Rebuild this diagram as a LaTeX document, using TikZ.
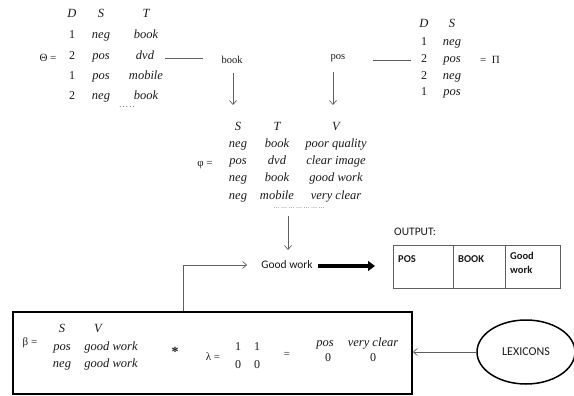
\documentclass[tikz,border=0pt]{standalone}
\usepackage{fontspec}
\setmainfont{Liberation Serif}
\newfontfamily\calib{Carlito}
\usetikzlibrary{arrows.meta,shapes.geometric}
\definecolor{lnc}{RGB}{95,95,95}
\definecolor{txc}{RGB}{25,25,25}
\begin{document}
\begin{tikzpicture}[x=1pt,y=-1pt,
  cellbase/.style={inner sep=0pt,text height=8pt,text depth=3pt,text=txc},
  it/.style={cellbase,font=\fontsize{12.5}{14}\selectfont\itshape},
  num/.style={cellbase,font=\fontsize{12}{14}\selectfont},
  lbl/.style={inner sep=0pt,text=txc,font=\fontsize{11}{13}\selectfont},
  word/.style={inner sep=0pt,text=txc,font=\fontsize{10.5}{12}\selectfont},
  sans/.style={inner sep=0pt,text=txc,font=\calib\fontsize{11.5}{13}\selectfont},
  bsans/.style={inner sep=0pt,text=txc,font=\calib\bfseries\fontsize{10.5}{12.5}\selectfont,align=left},
  dotrow/.style={inner sep=0pt,text=txc,font=\fontsize{6}{7}\selectfont},
  ln/.style={draw=lnc,line width=0.7pt},
  arr/.style={draw=lnc,line width=0.7pt,-{Straight Barb[length=4pt,width=7pt]}},
  heavy/.style={draw=black,line width=3.6pt,-{Triangle[length=7pt,width=10pt]}},
  framebox/.style={draw=black,line width=1.6pt,inner sep=0pt},
  oval/.style={ellipse,draw=black,line width=1.5pt,inner sep=0pt,text=txc,font=\calib\fontsize{12}{14}\selectfont}
]
\useasboundingbox (0,0) rectangle (574,396);

% ---- Theta: documents, sentiment, targets
\node[lbl] (theta) at (48,58) {Θ =};
\node[it] (thD) at (72,15) {D};
\node[it] (thS) at (101,15) {S};
\node[it] (thT) at (146,15) {T};
\node[num] (th1a) at (72,36) {1};
\node[it]  (th1b) at (101,36) {neg};
\node[it]  (th1c) at (146,36) {book};
\node[num] (th2a) at (72,57) {2};
\node[it]  (th2b) at (101,57) {pos};
\node[it]  (th2c) at (145,57) {dvd};
\node[num] (th3a) at (72,77) {1};
\node[it]  (th3b) at (101,77) {pos};
\node[it]  (th3c) at (146,77) {mobile};
\node[num] (th4a) at (72,97) {2};
\node[it]  (th4b) at (101,97) {neg};
\node[it]  (th4c) at (146,97) {book};
\node[dotrow,font=\fontsize{8}{8}\selectfont] (thdots) at (127,107) {.\,.\,.\,.\,.};
\coordinate (thL1) at (165,58);
\coordinate (thL2) at (203,58);
\draw[ln] (thL1) -- (thL2);

% ---- selected target
\node[word] (bookl) at (232,60) {book};
\coordinate (bkA) at (233,73);
\coordinate (bkB) at (233,105);
\draw[arr] (bkA) -- (bkB);

% ---- selected sentiment
\node[word] (posl) at (338,58) {pos};
\coordinate (psA) at (333,72);
\coordinate (psB) at (333,105);
\draw[arr] (psA) -- (psB);
\coordinate (piL1) at (373,60);
\coordinate (piL2) at (411,60);
\draw[ln] (piL1) -- (piL2);

% ---- Pi: documents and sentiment
\node[it] (piD) at (424,25) {D};
\node[it] (piS) at (452,25) {S};
\node[num] (pi1a) at (424,43) {1};
\node[it]  (pi1b) at (452,43) {neg};
\node[num] (pi2a) at (424,60) {2};
\node[it]  (pi2b) at (452,60) {pos};
\node[num] (pi3a) at (424,77) {2};
\node[it]  (pi3b) at (452,77) {neg};
\node[num] (pi4a) at (424,93) {1};
\node[it]  (pi4b) at (452,93) {pos};
\node[lbl] (pieq) at (490,60) {=\ \ Π};

% ---- phi: sentiment, target, value
\node[lbl] (phi) at (205,165) {φ =};
\node[it] (phS) at (238,128) {S};
\node[it] (phT) at (277,128) {T};
\node[it] (phV) at (336,128) {V};
\node[it] (ph1a) at (238,145) {neg};
\node[it] (ph1b) at (277,145) {book};
\node[it] (ph1c) at (336,145) {poor quality};
\node[it] (ph2a) at (238,162) {pos};
\node[it] (ph2b) at (277,162) {dvd};
\node[it] (ph2c) at (336,162) {clear image};
\node[it] (ph3a) at (238,179) {neg};
\node[it] (ph3b) at (277,179) {book};
\node[it] (ph3c) at (336,179) {good work};
\node[it] (ph4a) at (238,197) {neg};
\node[it] (ph4b) at (277,197) {mobile};
\node[it] (ph4c) at (336,197) {very clear};
\node[dotrow] (phdots) at (299,208) {\dots\ \dots\ \dots\ \dots\ \dots\ \dots\ \dots};

% ---- result
\node[sans] (gw) at (287,265) {Good work};
\coordinate (phA) at (288,216);
\coordinate (phB) at (288,250);
\draw[arr] (phA) -- (phB);
\coordinate (hvA) at (318,266);
\coordinate (hvB) at (375,266);
\draw[heavy] (hvA) -- (hvB);

% ---- output table
\node[sans,anchor=west] (outl) at (394,232) {OUTPUT:};
\node[draw=lnc,line width=0.7pt,minimum width=167pt,minimum height=43pt,inner sep=0pt] (outtab) at (476.5,266.5) {};
\draw[ln] (453,245) -- (453,288);
\draw[ln] (505,245) -- (505,288);
\node[bsans,anchor=west] (outpos) at (398,259) {POS};
\node[bsans,anchor=west] (outbook) at (458,259) {BOOK};
\node[bsans,anchor=north west] (outgw) at (510,252) {Good\\[1pt]work};

% ---- beta * lambda box
\node[framebox,minimum width=399pt,minimum height=82pt] (bbox) at (212.5,353) {};
\draw[arr] ([xshift=-29.5pt]bbox.north) |- ([xshift=-14pt]gw.west);

\node[lbl] (beta) at (30,343) {β =};
\node[it] (btS) at (62,330) {S};
\node[it] (btV) at (98,330) {V};
\node[it] (bt1a) at (62,348) {pos};
\node[it] (bt1b) at (111,348) {good work};
\node[it] (bt2a) at (62,365) {neg};
\node[it] (bt2b) at (111,365) {good work};
\node[inner sep=0pt,text=txc,font=\fontsize{14}{14}\selectfont\bfseries] (star) at (175,352) {*};
\node[lbl] (lambda) at (213,357) {λ =};
\node[num] (lm11) at (238,348) {1};
\node[num] (lm12) at (257,348) {1};
\node[num] (lm21) at (238,366) {0};
\node[num] (lm22) at (257,366) {0};
\node[lbl] (eqr) at (287,355) {=};
\node[it] (rs1a) at (325,344) {pos};
\node[it] (rs1b) at (373,344) {very clear};
\node[num] (rs2a) at (328,359) {0};
\node[num] (rs2b) at (373,359) {0};

% ---- lexicons
\node[oval,minimum width=98pt,minimum height=64pt] (lex) at (526,352) {LEXICONS};
\draw[arr] (lex.west) -- (lex.west -| bbox.east);
\end{tikzpicture}
\end{document}
